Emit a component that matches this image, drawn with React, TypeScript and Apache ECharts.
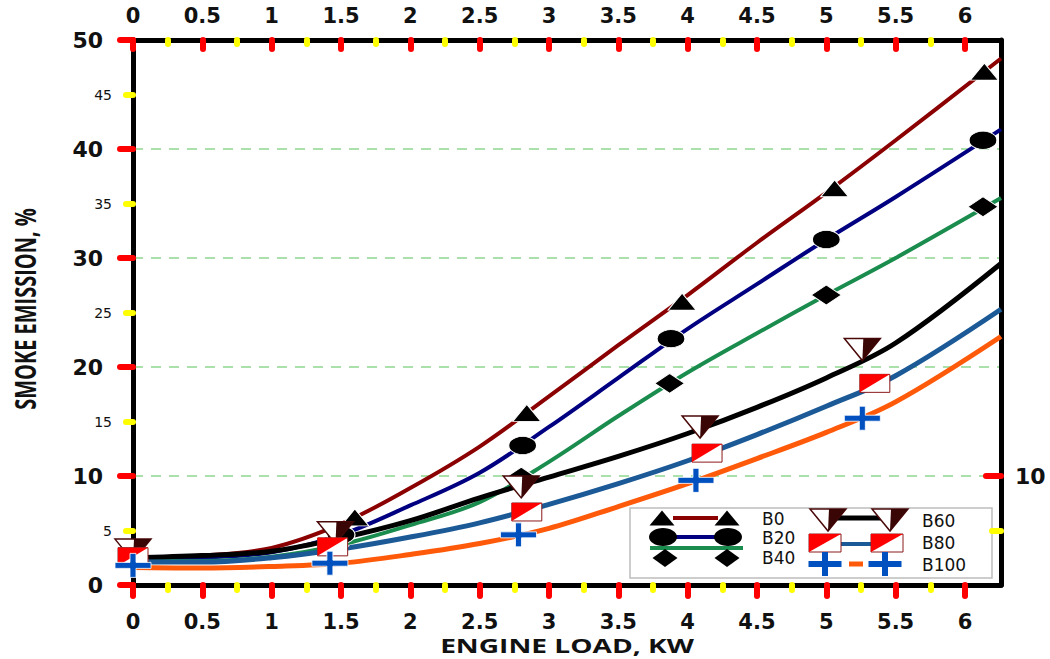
import React, { useEffect, useRef } from "react";
import * as echarts from "echarts";

// ---------- axis ticks ----------
const XMAX = 6.26;
const X_MAJOR = [0, 0.5, 1, 1.5, 2, 2.5, 3, 3.5, 4, 4.5, 5, 5.5, 6];
const X_MINOR = [0.25, 0.75, 1.25, 1.75, 2.25, 2.75, 3.25, 3.75, 4.25, 4.75, 5.25, 5.75];
const Y_MINOR = [5, 15, 25, 35, 45];
const RIGHT_MAJOR = [10];
const RIGHT_MINOR = [5];

// ---------- fitted curves ----------
const LINE_X = [0, 0.5, 1, 1.5, 2, 2.5, 3, 3.5, 4, 4.5, 5, 5.5, 6.26];
const B0_LINE = [2.5, 2.7, 3.4, 5.6, 8.9, 12.7, 17.3, 22.0, 26.6, 31.4, 36.0, 40.8, 48.3];
const B20_LINE = [2.4, 2.5, 3.0, 4.6, 7.3, 10.3, 14.5, 19.0, 23.5, 27.6, 31.7, 35.6, 41.8];
const B40_LINE = [2.2, 2.2, 2.6, 3.7, 5.5, 7.6, 11.3, 15.5, 19.5, 23.1, 26.6, 30.0, 35.5];
const B60_LINE = [2.5, 2.7, 3.1, 4.3, 5.9, 8.0, 9.9, 11.8, 13.9, 16.3, 19.0, 22.2, 29.5];
const B80_LINE = [2.1, 2.1, 2.5, 3.3, 4.4, 5.7, 7.4, 9.3, 11.4, 13.8, 16.4, 19.2, 25.3];
const B100_LINE = [1.6, 1.55, 1.7, 2.0, 2.8, 3.8, 5.2, 7.2, 9.3, 11.6, 14.0, 16.8, 22.8];

// ---------- measured points (markers) ----------
const B0_MX = [0, 1.6, 2.84, 3.96, 5.06, 6.14];
const B0_MY = [2.6, 6.2, 15.8, 26.0, 36.4, 47.1];
const B20_MX = [0, 1.5, 2.81, 3.88, 5.0, 6.13];
const B20_MY = [2.5, 4.6, 12.8, 22.6, 31.7, 40.8];
const B40_MX = [0, 1.45, 2.8, 3.87, 5.0, 6.13];
const B40_MY = [2.3, 3.6, 9.9, 18.5, 26.6, 34.7];
const B60_MX = [0, 1.46, 2.8, 4.09, 5.26];
const B60_MY = [3.2, 4.8, 9.0, 14.5, 21.6];
const B80_MX = [0, 1.44, 2.84, 4.14, 5.35];
const B80_MY = [2.6, 3.5, 6.7, 12.1, 18.5];
const B100_MX = [0, 1.42, 2.78, 4.06, 5.26];
const B100_MY = [1.8, 2.0, 4.6, 9.6, 15.3];

const NAMES = ["B0", "B20", "B40", "B60", "B80", "B100"];
const COLORS = ["#8b0000", "#000080", "#1a8c4e", "#000000", "#1b5a96", "#ff5a0a"];
const WIDTHS = [4, 4, 4, 5, 5, 5];

const zip = (xs: number[], ys: number[]) => xs.map((x, i) => [x, ys[i]]);

const PLUS_PATH = "path://M0,9 H15 V0 H21 V9 H36 V15 H21 V24 H15 V15 H0 Z";
const PLUS_BLUE = "#0050c0";

function downTri(cx: number, cy: number, w: number, h: number) {
  return [
    {
      type: "polygon",
      shape: { points: [[cx - w / 2, cy - h / 2], [cx + w / 2, cy - h / 2], [cx, cy + h / 2]] },
      style: { fill: "#ffffff", stroke: "#4a0808", lineWidth: 1.5 },
    },
    {
      type: "polygon",
      shape: { points: [[cx + 1, cy - h / 2], [cx + w / 2, cy - h / 2], [cx, cy + h / 2]] },
      style: { fill: "#3a0505" },
    },
  ];
}

function flag(cx: number, cy: number, w: number, h: number) {
  return [
    {
      type: "rect",
      shape: { x: cx - w / 2, y: cy - h / 2, width: w, height: h },
      style: { fill: "#ffffff", stroke: "#8b1a1a", lineWidth: 1 },
    },
    {
      type: "polygon",
      shape: { points: [[cx - w / 2, cy - h / 2], [cx + w / 2, cy - h / 2], [cx - w / 2, cy + h / 2]] },
      style: { fill: "#ff0000" },
    },
  ];
}

function plus(cx: number, cy: number, w: number, h: number, t: number) {
  return [
    { type: "rect", shape: { x: cx - w / 2, y: cy - t / 2, width: w, height: t }, style: { fill: PLUS_BLUE } },
    { type: "rect", shape: { x: cx - t / 2, y: cy - h / 2, width: t, height: h }, style: { fill: PLUS_BLUE } },
  ];
}

function triUp(cx: number, cy: number, w: number, h: number) {
  return {
    type: "polygon",
    shape: { points: [[cx - w / 2, cy + h / 2], [cx + w / 2, cy + h / 2], [cx, cy - h / 2]] },
    style: { fill: "#000" },
  };
}

function diamond(cx: number, cy: number, w: number, h: number) {
  return {
    type: "polygon",
    shape: { points: [[cx - w / 2, cy], [cx, cy - h / 2], [cx + w / 2, cy], [cx, cy + h / 2]] },
    style: { fill: "#000" },
  };
}

function hline(x1: number, x2: number, y: number, color: string, w: number) {
  return { type: "line", shape: { x1, y1: y, x2, y2: y }, style: { stroke: color, lineWidth: w } };
}

function legendText(text: string, x: number, y: number) {
  return {
    type: "text",
    x,
    y,
    style: {
      text,
      fill: "#111",
      font: '17px "DejaVu Sans"',
      verticalAlign: "middle",
      align: "left",
    },
  };
}

function buildLegend() {
  const children: any[] = [
    {
      type: "rect",
      shape: { x: 630, y: 508, width: 362, height: 70 },
      style: { fill: "#ffffff", stroke: "#bdbdbd", lineWidth: 1.5 },
    },
    // B0
    hline(673, 718, 518, COLORS[0], 4),
    triUp(662, 518, 25, 15),
    triUp(727, 518, 25, 15),
    legendText("B0", 762, 519),
    // B20
    hline(676, 715, 537, COLORS[1], 4),
    { type: "ellipse", shape: { cx: 663, cy: 537, rx: 14, ry: 9 }, style: { fill: "#000" } },
    { type: "ellipse", shape: { cx: 728, cy: 537, rx: 14, ry: 9 }, style: { fill: "#000" } },
    legendText("B20", 762, 538),
    // B40
    hline(650, 743, 548, COLORS[2], 4),
    diamond(665, 558, 25, 18),
    diamond(727, 558, 25, 18),
    legendText("B40", 762, 558),
    // B60
    hline(832, 886, 518, COLORS[3], 5),
    ...downTri(828, 520, 36, 22),
    ...downTri(890, 520, 36, 22),
    legendText("B60", 922, 521),
    // B80
    hline(823, 890, 544, COLORS[4], 4),
    ...flag(825, 543, 32, 18),
    ...flag(887, 543, 32, 18),
    legendText("B80", 922, 543),
    // B100
    hline(849, 863, 564, COLORS[5], 5),
    ...plus(825, 564, 33, 24, 6),
    ...plus(885, 564, 33, 24, 6),
    legendText("B100", 922, 565),
  ];
  return { type: "group", z: 100, children };
}

const tickFont = { fontFamily: "DejaVu Sans", fontWeight: "bold" as const, fontSize: 21, color: "#111" };

function buildOption(): any {
  const lineSeries = NAMES.map((name, i) => ({
    name,
    type: "line",
    data: zip(LINE_X, [B0_LINE, B20_LINE, B40_LINE, B60_LINE, B80_LINE, B100_LINE][i]),
    smooth: 0.35,
    showSymbol: false,
    symbol: "none",
    lineStyle: { color: COLORS[i], width: WIDTHS[i] },
    z: 2,
    silent: true,
  }));

  const markerSeries: any[] = [
    {
      name: "B0 pts",
      type: "scatter",
      data: zip(B0_MX, B0_MY),
      symbol: "triangle",
      symbolSize: [28, 17],
      itemStyle: { color: "#000", borderColor: "#fff", borderWidth: 1, opacity: 1 },
      z: 5,
      silent: true,
    },
    {
      name: "B20 pts",
      type: "scatter",
      data: zip(B20_MX, B20_MY),
      symbol: "circle",
      symbolSize: [28, 18],
      itemStyle: { color: "#000", borderColor: "#fff", borderWidth: 1, opacity: 1 },
      z: 5,
      silent: true,
    },
    {
      name: "B40 pts",
      type: "scatter",
      data: zip(B40_MX, B40_MY),
      symbol: "diamond",
      symbolSize: [30, 20],
      itemStyle: { color: "#000", borderColor: "#fff", borderWidth: 1, opacity: 1 },
      z: 5,
      silent: true,
    },
    {
      name: "B60 pts",
      type: "custom",
      data: zip(B60_MX, B60_MY),
      z: 6,
      silent: true,
      renderItem: (params: any, api: any) => {
        const p = api.coord([api.value(0), api.value(1)]);
        return { type: "group", children: downTri(p[0], p[1], 36, 22) };
      },
    },
    {
      name: "B80 pts",
      type: "custom",
      data: zip(B80_MX, B80_MY),
      z: 7,
      silent: true,
      renderItem: (params: any, api: any) => {
        const p = api.coord([api.value(0), api.value(1)]);
        return { type: "group", children: flag(p[0], p[1], 30, 18) };
      },
    },
    {
      name: "B100 pts",
      type: "scatter",
      data: zip(B100_MX, B100_MY),
      symbol: PLUS_PATH,
      symbolSize: [36, 24],
      symbolKeepAspect: false,
      itemStyle: { color: PLUS_BLUE, borderColor: "#fff", borderWidth: 0.8, opacity: 1 },
      z: 8,
      silent: true,
    },
  ];

  const baseX = { type: "value", min: 0, max: XMAX, splitLine: { show: false } };
  const baseY = { type: "value", min: 0, max: 50, splitLine: { show: false } };

  return {
    animation: false,
    backgroundColor: "#ffffff",
    grid: { left: 133, right: 49, top: 40, bottom: 74, containLabel: false },
    xAxis: [
      {
        ...baseX,
        position: "bottom",
        axisLine: { show: true, onZero: false, lineStyle: { color: "#000", width: 5 } },
        axisTick: { show: true, customValues: X_MAJOR, length: 11, lineStyle: { color: "#ff0000", width: 6, cap: "round" } },
        axisLabel: { show: true, customValues: X_MAJOR, margin: 26, ...tickFont, formatter: (v: number) => String(v) },
      },
      {
        ...baseX,
        position: "bottom",
        axisLine: { show: false, onZero: false },
        axisTick: { show: true, customValues: X_MINOR, length: 5, lineStyle: { color: "#ffff00", width: 6, cap: "round" } },
        axisLabel: { show: false },
      },
      {
        ...baseX,
        position: "top",
        axisLine: { show: true, onZero: false, lineStyle: { color: "#000", width: 5 } },
        axisTick: { show: true, inside: true, customValues: X_MAJOR, length: 9, lineStyle: { color: "#ff0000", width: 6, cap: "round" } },
        axisLabel: { show: true, customValues: X_MAJOR, margin: 14, ...tickFont, formatter: (v: number) => String(v) },
      },
      {
        ...baseX,
        position: "top",
        axisLine: { show: false, onZero: false },
        axisTick: { show: true, inside: true, customValues: X_MINOR, length: 4, lineStyle: { color: "#ffff00", width: 6, cap: "round" } },
        axisLabel: { show: false },
      },
    ],
    yAxis: [
      {
        type: "value",
        min: 0,
        max: 50,
        interval: 10,
        position: "left",
        axisLine: { show: true, onZero: false, lineStyle: { color: "#000", width: 5 } },
        axisTick: { show: true, length: 13, lineStyle: { color: "#ff0000", width: 6, cap: "round" } },
        axisLabel: { show: true, margin: 30, ...tickFont, fontSize: 22 },
        splitLine: { show: true, lineStyle: { color: "#8fd88f", width: 1.5, type: [10, 8] } },
      },
      {
        ...baseY,
        position: "left",
        axisLine: { show: false, onZero: false },
        axisTick: { show: true, customValues: Y_MINOR, length: 7, lineStyle: { color: "#ffff00", width: 6, cap: "round" } },
        axisLabel: {
          show: true,
          customValues: Y_MINOR,
          margin: 21,
          fontFamily: "DejaVu Sans",
          fontSize: 14,
          color: "#111",
        },
      },
      {
        ...baseY,
        position: "right",
        axisLine: { show: true, onZero: false, lineStyle: { color: "#000", width: 5 } },
        axisTick: { show: true, inside: true, customValues: RIGHT_MAJOR, length: 15, lineStyle: { color: "#ff0000", width: 6, cap: "round" } },
        axisLabel: { show: true, customValues: RIGHT_MAJOR, margin: 14, ...tickFont, fontSize: 22 },
      },
      {
        ...baseY,
        position: "right",
        axisLine: { show: false, onZero: false },
        axisTick: { show: true, inside: true, customValues: RIGHT_MINOR, length: 9, lineStyle: { color: "#ffff00", width: 6, cap: "round" } },
        axisLabel: { show: false },
      },
    ],
    graphic: [
      {
        type: "text",
        x: 567,
        y: 645,
        scaleX: 1.48,
        z: 100,
        style: {
          text: "ENGINE LOAD, KW",
          fill: "#111",
          font: 'bold 19px "Open Sans"',
          align: "center",
          verticalAlign: "middle",
        },
      },
      {
        type: "text",
        x: 24,
        y: 309,
        rotation: Math.PI / 2,
        scaleY: 1.45,
        z: 100,
        style: {
          text: "SMOKE EMISSION, %",
          fill: "#111",
          font: 'bold 20px "Open Sans"',
          align: "center",
          verticalAlign: "middle",
        },
      },
      buildLegend(),
    ],
    series: [...lineSeries, ...markerSeries],
  };
}

export default function App() {
  const ref = useRef<HTMLDivElement>(null);
  useEffect(() => {
    document.body.style.margin = "0";
    if (!ref.current) return;
    const chart = echarts.init(ref.current, null, { renderer: "svg" });
    chart.setOption(buildOption());
    return () => chart.dispose();
  }, []);
  return <div ref={ref} style={{ width: 1050, height: 659 }} />;
}
